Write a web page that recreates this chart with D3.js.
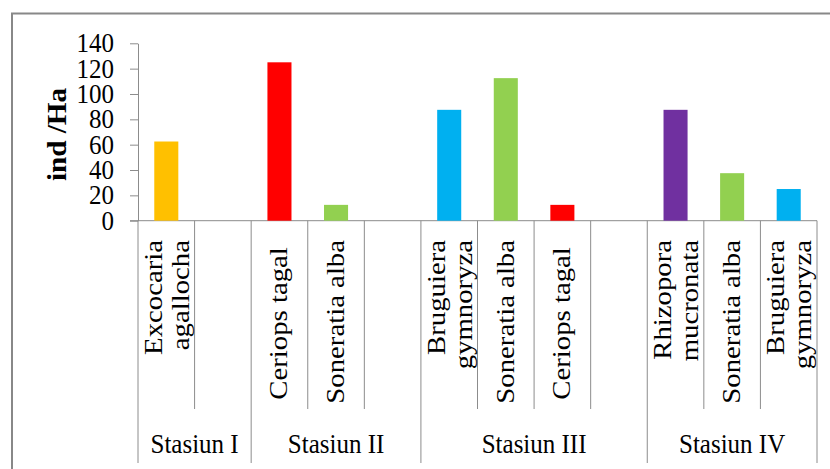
<!DOCTYPE html>
<html>
<head>
<meta charset="utf-8">
<script src="https://cdn.jsdelivr.net/npm/d3@7"></script>
<style>
  html, body { margin: 0; padding: 0; background: #fff; }
  svg { display: block; }
</style>
</head>
<body>
<svg id="chart" width="830" height="469"></svg>
<script>
// Mangrove density per species at each station (ind/Ha)
const stations = ["Stasiun I", "Stasiun II", "Stasiun III", "Stasiun IV"];
const slotStation = [0, 0, 1, 1, 1, 2, 2, 2, 2, 3, 3, 3];
const speciesLines = [
  ["Excocaria", "agallocha"], [],
  ["Ceriops tagal "], ["Soneratia alba"], [],
  ["Bruguiera", "gymnoryza"], ["Soneratia alba"], ["Ceriops tagal "], [],
  ["Rhizopora", "mucronata"], ["Soneratia alba"], ["Bruguiera", "gymnoryza"]
];
const density = [62.5, null, 125, 12.5, null, 87.5, 112.5, 12.5, null, 87.5, 37.5, 25];
const barColors = ["#FFC000", null, "#FF0000", "#92D050", null, "#00B0F0", "#92D050", "#FF0000", null, "#7030A0", "#92D050", "#00B0F0"];
const yTicks = [0, 20, 40, 60, 80, 100, 120, 140];
const yTitle = "ind /Ha";

const serif = "'Liberation Serif', 'Times New Roman', Tinos, 'DejaVu Serif', serif";
const svg = d3.select("#chart").style("font-family", serif);
const lineColor = "#8c8c8c";

const slots = d3.range(density.length);
const x = d3.scaleBand().domain(slots).range([138, 817]).paddingInner(0.575).paddingOuter(0.2875);
const y = d3.scaleLinear().domain([0, 140]).range([220.7, 43.3]);
const step = x.step();
const slotCenter = i => x(i) + x.bandwidth() / 2;

// outer frame (left and top edges)
svg.append("path")
  .attr("d", "M12,469V13.5H830")
  .attr("fill", "none").attr("stroke", "#888").attr("stroke-width", 2);

// y axis
const yAxis = svg.append("g")
  .attr("transform", "translate(138,0)")
  .call(d3.axisLeft(y).tickValues(yTicks).tickSize(8).tickPadding(16).tickSizeOuter(0))
  .attr("font-family", null)
  .attr("font-size", null);
yAxis.select(".domain").attr("stroke", lineColor);
yAxis.selectAll(".tick line").attr("stroke", lineColor);
yAxis.selectAll(".tick text")
  .style("font-family", serif)
  .style("font-size", "25px")
  .attr("fill", "#000")
  .attr("transform", "scale(1,1.08)");

// baseline
svg.append("line")
  .attr("x1", 130).attr("x2", 817).attr("y1", y(0)).attr("y2", y(0))
  .attr("stroke", lineColor);

// bars
svg.append("g").selectAll("rect")
  .data(slots.filter(i => density[i] != null))
  .join("rect")
  .attr("x", i => x(i))
  .attr("width", x.bandwidth())
  .attr("y", i => y(density[i]))
  .attr("height", i => y(0) - y(density[i]))
  .attr("fill", i => barColors[i]);

// category dividers: long lines at station boundaries, short lines between species
const boundaries = d3.range(density.length + 1);
svg.append("g").selectAll("line")
  .data(boundaries)
  .join("line")
  .attr("x1", i => 138 + i * step).attr("x2", i => 138 + i * step)
  .attr("y1", y(0))
  .attr("y2", i => (i === 0 || i === density.length || slotStation[i] !== slotStation[i - 1]) ? 463 : 409)
  .attr("stroke", lineColor);

// species labels (rotated)
const labelG = svg.append("g");
slots.forEach(i => {
  const lines = speciesLines[i];
  if (!lines.length) return;
  const cx = slotCenter(i);
  const offsets = lines.length === 1 ? [8] : [-4.5, 22.5];
  lines.forEach((t, k) => {
    labelG.append("text")
      .attr("transform", `translate(${cx + offsets[k]},240) rotate(-90) scale(1.15,1)`)
      .attr("text-anchor", "end")
      .style("font-family", serif)
      .style("font-size", "25px")
      .style("white-space", "pre")
      .text(t);
  });
});

// station labels
svg.append("g").selectAll("text")
  .data(stations)
  .join("text")
  .attr("transform", (d, s) => {
    const idx = slots.filter(i => slotStation[i] === s);
    const cx = (138 + idx[0] * step + 138 + (idx[idx.length - 1] + 1) * step) / 2;
    return `translate(${cx},453) scale(1,1.08)`;
  })
  .attr("text-anchor", "middle")
  .style("font-family", serif)
  .style("font-size", "25px")
  .text(d => d);

// y axis title
svg.append("text")
  .attr("transform", "translate(66,134.5) rotate(-90) scale(1.08,1)")
  .attr("text-anchor", "middle")
  .style("font-family", serif)
  .style("font-size", "27px")
  .style("font-weight", "bold")
  .text(yTitle);
</script>
</body>
</html>
